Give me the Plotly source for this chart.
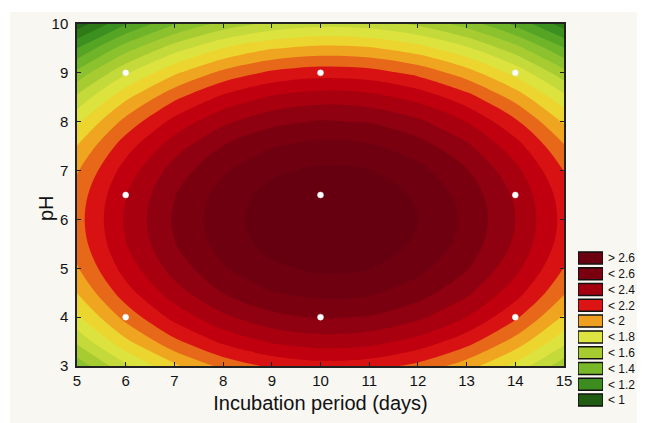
import plotly.graph_objects as go

# ---------------- data ----------------
x_days = [5, 6, 7, 8, 9, 10, 11, 12, 13, 14, 15]
y_ph = [3, 3.5, 4, 4.5, 5, 5.5, 6, 6.5, 7, 7.5, 8, 8.5, 9, 9.5, 10]
z_rows = [
    [1.430, 1.684, 1.883, 2.029, 2.121, 2.159, 2.143, 2.072, 1.948, 1.770, 1.538],
    [1.623, 1.877, 2.076, 2.222, 2.314, 2.352, 2.336, 2.265, 2.141, 1.963, 1.731],
    [1.780, 2.034, 2.233, 2.379, 2.471, 2.509, 2.493, 2.422, 2.298, 2.120, 1.888],
    [1.903, 2.157, 2.356, 2.502, 2.594, 2.632, 2.616, 2.545, 2.421, 2.243, 2.011],
    [1.990, 2.244, 2.443, 2.589, 2.681, 2.719, 2.703, 2.632, 2.508, 2.330, 2.098],
    [2.043, 2.297, 2.496, 2.642, 2.734, 2.772, 2.756, 2.685, 2.561, 2.383, 2.151],
    [2.060, 2.314, 2.513, 2.659, 2.751, 2.789, 2.773, 2.702, 2.578, 2.400, 2.168],
    [2.043, 2.297, 2.496, 2.642, 2.734, 2.772, 2.756, 2.685, 2.561, 2.383, 2.151],
    [1.990, 2.244, 2.443, 2.589, 2.681, 2.719, 2.703, 2.632, 2.508, 2.330, 2.098],
    [1.903, 2.157, 2.356, 2.502, 2.594, 2.632, 2.616, 2.545, 2.421, 2.243, 2.011],
    [1.780, 2.034, 2.233, 2.379, 2.471, 2.509, 2.493, 2.422, 2.298, 2.120, 1.888],
    [1.623, 1.877, 2.076, 2.222, 2.314, 2.352, 2.336, 2.265, 2.141, 1.963, 1.731],
    [1.430, 1.684, 1.883, 2.029, 2.121, 2.159, 2.143, 2.072, 1.948, 1.770, 1.538],
    [1.203, 1.457, 1.656, 1.802, 1.894, 1.932, 1.916, 1.845, 1.721, 1.543, 1.311],
    [0.940, 1.194, 1.393, 1.539, 1.631, 1.669, 1.653, 1.582, 1.458, 1.280, 1.048],
]

design_x = [6, 6, 6, 10, 10, 10, 14, 14, 14]
design_y = [4, 6.5, 9, 4, 6.5, 9, 4, 6.5, 9]

legend_labels = ["> 2.6", "< 2.6", "< 2.4", "< 2.2", "< 2", "< 1.8", "< 1.6", "< 1.4", "< 1.2", "< 1"]
legend_colors = ["#6a0010", "#7a0010", "#a3000f", "#dc1414", "#f0a020",
                 "#dde640", "#a6cc30", "#78b828", "#3c8c20", "#1f5c12"]

# band colours for levels 0.9 .. 2.7 step 0.1 (20 bands, lowest first)
band_colors = ["#1b5410", "#236512", "#2e7a16", "#3c9020", "#55a424",
               "#70b42a", "#8cc22e", "#a6cc32", "#c4d93a", "#dde33e",
               "#ecd52e", "#f0a520", "#e66818", "#d81212", "#c0000f",
               "#a8000f", "#8f0010", "#7a0010", "#6e0010", "#660010"]
level_start, level_end, level_step = 0.9, 2.7, 0.1

n = len(band_colors)
colorscale = [[i / (n - 1), c] for i, c in enumerate(band_colors)]

fig = go.Figure()

fig.add_trace(go.Contour(
    x=x_days, y=y_ph, z=z_rows,
    autocontour=False,
    contours=dict(start=level_start, end=level_end, size=level_step,
                  coloring="fill", showlines=False),
    colorscale=colorscale, showscale=False,
    line=dict(width=0, smoothing=1),
    hoverinfo="skip",
))

fig.add_trace(go.Scatter(
    x=design_x, y=design_y, mode="markers",
    marker=dict(color="white", size=6, line=dict(color="#e8e8e8", width=0.5)),
    showlegend=False, hoverinfo="skip",
))

fig.add_trace(go.Bar(
    y=legend_labels, x=[1] * len(legend_labels), orientation="h",
    xaxis="x2", yaxis="y2",
    marker=dict(color=legend_colors, line=dict(color="#111111", width=1.5)),
    showlegend=False, hoverinfo="skip",
))

# page offset: the html body adds an 8px margin around the figure
OFF = 8
W, H = 645 - OFF, 423 - OFF
ml, mr, mt, mb = 77 - OFF, 0, 24 - OFF, 4
pw, ph = W - ml - mr, H - mt - mb

def px_x(p):  # page pixel -> paper x
    return (p - OFF - ml) / pw

def px_y(p):  # page pixel -> paper y
    return (H - mb - (p - OFF)) / ph

axis_common = dict(showline=True, linecolor="#222222", linewidth=1.5, mirror="ticks",
                   ticks="inside", ticklen=4, tickcolor="#222222", tickwidth=1.2,
                   showgrid=False, zeroline=False, automargin=False,
                   tickfont=dict(family="Liberation Sans, Arial", size=15, color="#111111"))

fig.update_layout(
    width=W, height=H,
    margin=dict(l=ml, r=mr, t=mt, b=mb, autoexpand=False),
    paper_bgcolor="#f8f7f1",
    plot_bgcolor="#f8f7f1",
    showlegend=False,
    bargap=0.24,
    xaxis=dict(range=[5, 15], dtick=1, domain=[0, px_x(564)], anchor="y",
               title=dict(text="Incubation period (days)", standoff=8,
                          font=dict(family="Liberation Sans, Arial", size=20, color="#111111")),
               **axis_common),
    yaxis=dict(range=[3, 10], dtick=1, domain=[px_y(366), 1], anchor="x",
               ticklabelstandoff=4, **axis_common),
    xaxis2=dict(domain=[px_x(578), px_x(603)], range=[0, 1], anchor="y2",
                visible=False, fixedrange=True),
    yaxis2=dict(domain=[px_y(408), px_y(250)], anchor="x2", side="right",
                categoryorder="array", categoryarray=legend_labels, autorange="reversed",
                tickmode="array", tickvals=legend_labels, ticktext=legend_labels,
                showline=False, ticks="", showgrid=False, zeroline=False,
                ticklabelstandoff=4, automargin=False,
                tickfont=dict(family="Liberation Sans, Arial", size=12, color="#111111")),
    annotations=[dict(text="pH", x=px_x(33), y=px_y(208), xref="paper", yref="paper",
                      textangle=-90, showarrow=False,
                      font=dict(family="Liberation Sans, Arial", size=20, color="#111111"))],
    shapes=[
        dict(type="rect", xref="paper", yref="paper", x0=px_x(0), x1=px_x(700),
             y0=px_y(12), y1=px_y(0), fillcolor="white", line=dict(width=0), layer="below"),
        dict(type="rect", xref="paper", yref="paper", x0=px_x(0), x1=px_x(10),
             y0=px_y(500), y1=px_y(0), fillcolor="white", line=dict(width=0), layer="below"),
    ],
)

fig.write_html("out.html")
